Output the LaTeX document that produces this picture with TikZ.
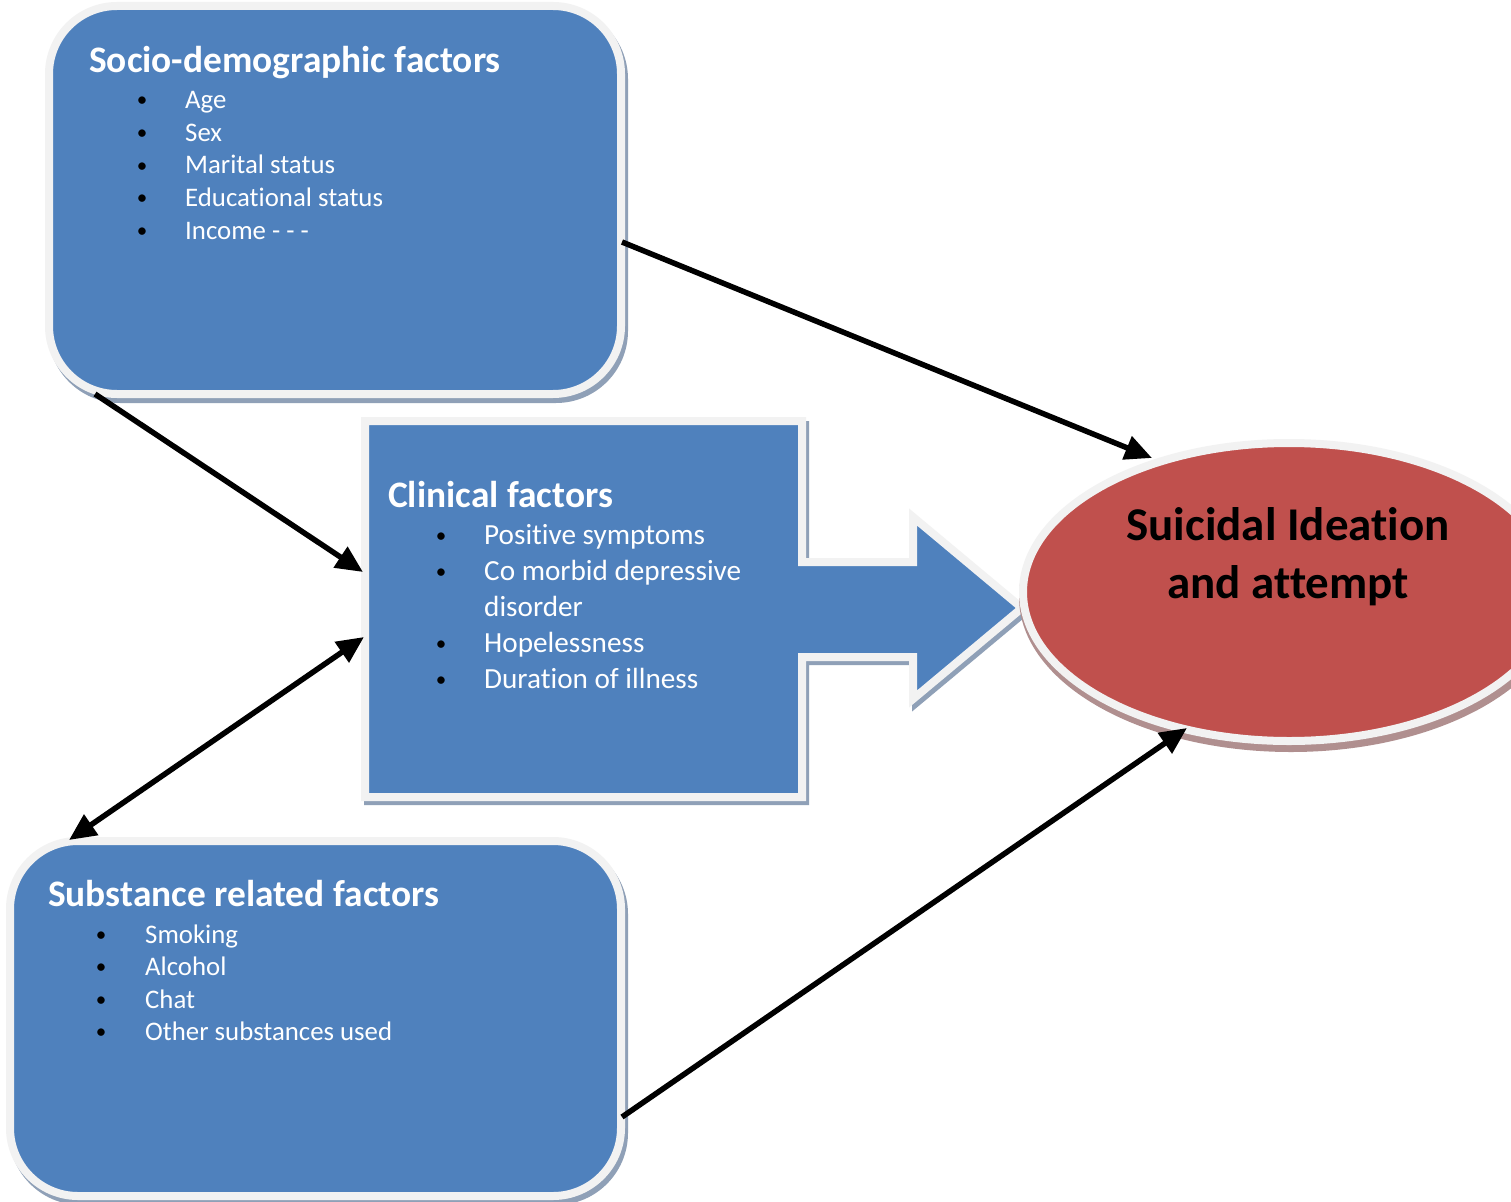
\documentclass[tikz,border=0pt]{standalone}
\usepackage{fontspec}
\setmainfont{Carlito}[Ligatures=NoCommon]
\usetikzlibrary{arrows.meta,shapes.geometric}
\definecolor{boxblue}{HTML}{4F81BD}
\definecolor{ovalred}{HTML}{C0504D}
\definecolor{rim}{HTML}{F2F2F2}
\definecolor{shadeblue}{HTML}{8FA0B7}
\definecolor{shadered}{HTML}{B08F8F}
\begin{document}
\begin{tikzpicture}[x=1pt,y=-1pt,
  rimbox/.style={draw=rim, line width=8pt, fill=boxblue, inner sep=0pt, outer sep=0pt},
  shadowshape/.style={fill=shadeblue, draw=none, inner sep=0pt, outer sep=0pt},
  ttl/.style={anchor=base west, inner sep=0pt, text=white, font=\bfseries\fontsize{37.4}{44}\selectfont},
  itm/.style={anchor=base west, inner sep=0pt, text=white, font=\fontsize{26.8}{31}\selectfont},
  citm/.style={anchor=base west, inner sep=0pt, text=white, font=\fontsize{29.2}{35}\selectfont},
  bul/.style={anchor=base, inner sep=0pt, text=black, font=\fontsize{21}{25}\selectfont},
  conn/.style={line width=5.5pt, black, -{Triangle[length=27pt,width=24pt]}},
  conn2/.style={line width=5.5pt, black, {Triangle[length=27pt,width=24pt]}-{Triangle[length=27pt,width=24pt]}},
  oval/.style={font=\bfseries\fontsize{47}{58}\selectfont, text=black, anchor=base, inner sep=0pt}
]
\useasboundingbox (0,0) rectangle (1511,1201);
\clip (0,0) rectangle (1511,1201);
\fill[white] (0,0) rectangle (1511,1201);

% ---------- Socio-demographic box ----------
\node[shadowshape, rounded corners=72pt, minimum width=580pt, minimum height=396pt] (sdsh) at (338,205) {};
\node[rimbox, rounded corners=68pt, minimum width=572pt, minimum height=388pt] (sd) at (335,200) {};
\node[ttl] (sdt) at (89,73) {Socio-demographic factors};
\node[bul] (sdb1) at (142,107) {\textbullet};
\node[bul] (sdb2) at (142,139.5) {\textbullet};
\node[bul] (sdb3) at (142,172) {\textbullet};
\node[bul] (sdb4) at (142,204.5) {\textbullet};
\node[bul] (sdb5) at (142,237) {\textbullet};
\node[itm] (sdi1) at (185,109) {Age};
\node[itm] (sdi2) at (185,141.5) {Sex};
\node[itm] (sdi3) at (185,174) {Marital status};
\node[itm] (sdi4) at (185,206.5) {Educational status};
\node[itm] (sdi5) at (185,239) {Income - - -};

% ---------- Clinical factors (arrow callout) ----------
\begin{scope}[shift={(3,4)}]
\draw[shadeblue, fill=shadeblue, line width=8pt, line join=miter]
  (365,421) -- (802,421) -- (802,562) -- (913,562) -- (913,517) -- (1022,608)
  -- (913,699) -- (913,657) -- (802,657) -- (802,797) -- (365,797) -- cycle;
\end{scope}
\draw[draw=rim, fill=boxblue, line width=8pt, line join=miter]
  (365,421) -- (802,421) -- (802,562) -- (913,562) -- (913,517) -- (1022,608)
  -- (913,699) -- (913,657) -- (802,657) -- (802,797) -- (365,797) -- cycle;
\coordinate (clin) at (583,609);
\node[ttl] (clt) at (388,507) {Clinical factors};
\node[bul] (clb1) at (441,542) {\textbullet};
\node[bul] (clb2) at (441,578) {\textbullet};
\node[bul] (clb3) at (441,650) {\textbullet};
\node[bul] (clb4) at (441,686) {\textbullet};
\node[citm] (cli1) at (484,544) {Positive symptoms};
\node[citm] (cli2) at (484,580) {Co morbid depressive};
\node[citm] (cli2b) at (484,616) {disorder};
\node[citm] (cli3) at (484,652) {Hopelessness};
\node[citm] (cli4) at (484,688) {Duration of illness};

% ---------- Substance box ----------
\node[shadowshape, rounded corners=72pt, minimum width=619pt, minimum height=363pt] (sbsh) at (318.5,1023.5) {};
\node[rimbox, rounded corners=68pt, minimum width=611pt, minimum height=355pt] (sb) at (315.5,1018.5) {};
\node[ttl] (sbt) at (48,906) {Substance related factors};
\node[bul] (sbb1) at (101,941) {\textbullet};
\node[bul] (sbb2) at (101,973.5) {\textbullet};
\node[bul] (sbb3) at (101,1006) {\textbullet};
\node[bul] (sbb4) at (101,1038.5) {\textbullet};
\node[itm] (sbi1) at (145,943) {Smoking};
\node[itm] (sbi2) at (145,975.5) {Alcohol};
\node[itm] (sbi3) at (145,1008) {Chat};
\node[itm] (sbi4) at (145,1040.5) {Other substances used};

% ---------- Outcome ellipse ----------
\node[ellipse, fill=shadered, draw=shadered, line width=8pt, minimum width=536pt, minimum height=302pt, inner sep=0pt] (ovsh) at (1291,597) {};
\node[ellipse, fill=ovalred, draw=rim, line width=8pt, minimum width=532pt, minimum height=298pt, inner sep=0pt] (ov) at (1289,592) {};
\node[oval] (ovt1) at (1288,540) {Suicidal Ideation};
\node[oval] (ovt2) at (1288,598) {and attempt};

% ---------- Connectors ----------
\coordinate (p1) at (622,242);  \coordinate (q1) at (1152,458);
\coordinate (p2) at (95,394);   \coordinate (q2) at (363,572);
\coordinate (p3) at (69,840);   \coordinate (q3) at (364,637);
\coordinate (p4) at (622,1117); \coordinate (q4) at (1187,728);
\draw[conn] (p1) -- (q1);
\draw[conn] (p2) -- (q2);
\draw[conn2] (p3) -- (q3);
\draw[conn] (p4) -- (q4);
\end{tikzpicture}
\end{document}
